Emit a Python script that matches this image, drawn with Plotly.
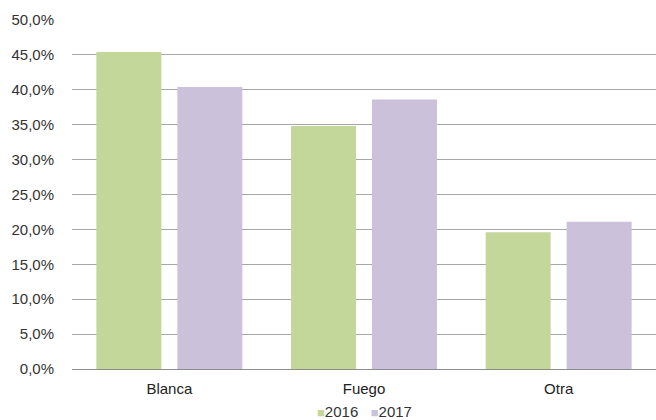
import plotly.graph_objects as go

categories = ["Blanca", "Fuego", "Otra"]
series_names = ["2016", "2017"]
series_2016 = [0.454, 0.348, 0.196]
series_2017 = [0.404, 0.386, 0.211]
series_colors = ["#c4d79b", "#ccc1da"]
tick_vals = [0.0, 0.05, 0.10, 0.15, 0.20, 0.25, 0.30, 0.35, 0.40, 0.45, 0.50]

fig = go.Figure()
for name, vals, col in zip(series_names, [series_2016, series_2017], series_colors):
    fig.add_trace(go.Bar(name=name, x=categories, y=vals,
                         marker=dict(color=col, line=dict(width=0))))

legend_text = "&nbsp;&nbsp;&nbsp;".join(
    f"<span style='font-size:13px;color:{c}'>■</span>{n}"
    for n, c in zip(series_names, series_colors)
)

fig.update_layout(
    width=656, height=420,
    margin=dict(l=72, r=0, t=20, b=51, autoexpand=False),
    paper_bgcolor="white", plot_bgcolor="white",
    separators=",.",
    barmode="group", bargap=0.168, bargroupgap=0.1975,
    font=dict(family="Liberation Sans, Arial, sans-serif", size=15, color="#333333"),
    showlegend=False,
    annotations=[dict(text=legend_text, x=0.5, xref="paper", y=-0.121, yref="paper",
                      xanchor="center", yanchor="middle", showarrow=False,
                      font=dict(size=15, color="#333333"))],
    yaxis=dict(range=[0, 0.5], tickvals=tick_vals, tickformat=".1%",
               showgrid=True, gridcolor="#a6a6a6", gridwidth=1,
               zeroline=True, zerolinecolor="#8c8c8c", zerolinewidth=1,
               showline=False, ticks="", ticklabelstandoff=17, automargin=False,
               tickfont=dict(size=15, color="#333333")),
    xaxis=dict(showgrid=False, showline=False, ticks="", automargin=False,
               ticklabelstandoff=9,
               tickfont=dict(size=15, color="#222222")),
)

fig.write_html("out.html", config={"displayModeBar": False},
               post_script="document.body.style.margin='0';document.body.style.overflow='hidden';")
